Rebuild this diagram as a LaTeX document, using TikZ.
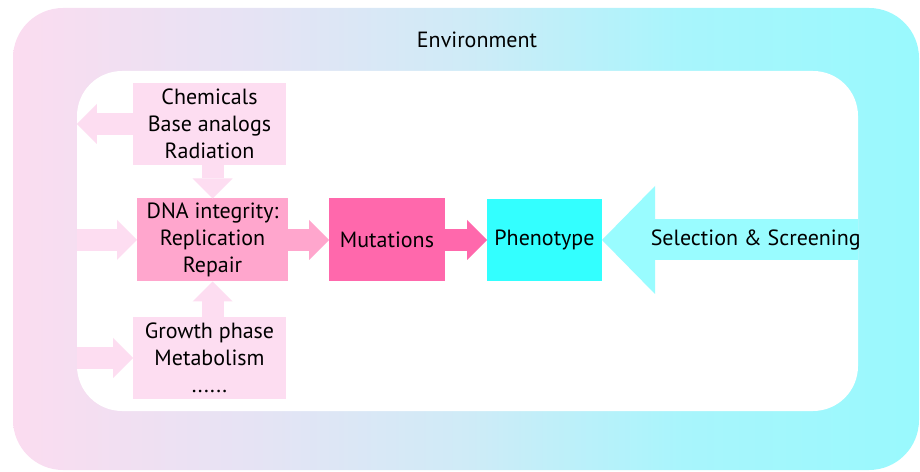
\documentclass[tikz,border=0pt]{standalone}
\usepackage{fontspec}
\setmainfont{PT Sans}
\usetikzlibrary{arrows.meta,positioning}

\definecolor{chempink}{HTML}{FDDDF1}
\definecolor{dnapink}{HTML}{FFA6CD}
\definecolor{mutpink}{HTML}{FF68AC}
\definecolor{phencyan}{HTML}{33FFFF}
\definecolor{selcyan}{HTML}{99FCFF}
\definecolor{envpink}{HTML}{FBDCF0}
\definecolor{envlav}{HTML}{E6E3F4}
\definecolor{envblue}{HTML}{CFEBF7}
\definecolor{envcyan}{HTML}{A8F5FC}
\definecolor{envcyanR}{HTML}{99F9FD}

\pgfdeclarehorizontalshading{envshade}{100bp}{color(0bp)=(envpink); color(25bp)=(envpink);
  color(38bp)=(envlav); color(50bp)=(envblue); color(62bp)=(envcyan); color(75bp)=(envcyanR); color(100bp)=(envcyanR)}

\tikzset{
  box/.style={rectangle, inner sep=0pt, outer sep=0pt, align=center,
    font=\fontsize{22}{27}\selectfont},
  fat/.style={line width=22pt, -{Triangle[length=20pt, width=40pt, line width=0pt]}},
}

\begin{document}
\begin{tikzpicture}[x=1pt, y=1pt]
    \useasboundingbox (0,0) rectangle (920,471);

    % environment frame
    \node[rectangle, shading=envshade, rounded corners=50pt, minimum width=906pt,
      minimum height=462pt] (env) at (466,232) {};
    \node[rectangle, fill=white, rounded corners=45pt, minimum width=781pt,
      minimum height=340pt] (inner) at (467.5,230) {};
    \node[box] (envlabel) at (477,431) {Environment};

    % boxes
    \node[box, fill=chempink, minimum width=153pt, minimum height=82pt] (chem) at (209.5,347) {Chemicals\\Base analogs\\Radiation};
    \node[box, fill=dnapink, minimum width=151pt, minimum height=83pt] (dna) at (212.5,231) {DNA integrity:\\Replication\\Repair};
    \node[box, fill=chempink, minimum width=153pt, minimum height=82pt] (grow) at (209.5,113) {Growth phase\\Metabolism\\......};
    \node[box, fill=mutpink, minimum width=116pt, minimum height=83pt] (mut) at (387,231) {Mutations};
    \node[box, fill=phencyan, minimum width=115pt, minimum height=82pt] (phen) at (544.5,231) {Phenotype};

    % arrows
    \draw[fat, chempink] (chem.west) -- (inner.west |- chem.west);
    \draw[fat, chempink] (inner.west |- dna.west) -- (dna.west);
    \draw[fat, chempink] (inner.west |- grow.west) -- (grow.west);
    \draw[fat, chempink] (dna.north |- chem.south) -- (dna.north);
    \draw[fat, chempink] (dna.south |- grow.north) -- (dna.south);
    \draw[fat, dnapink] (dna.east) -- (mut.west);
    \draw[fat, mutpink] (mut.east) -- (phen.west);
    \draw[selcyan, line width=41pt, -{Triangle[length=53pt, width=108pt, line width=0pt]}]
      (inner.east |- phen.east) -- (phen.east)
      node[box, black, pos=0.4] (sel) {Selection \& Screening};
\end{tikzpicture}
\end{document}
